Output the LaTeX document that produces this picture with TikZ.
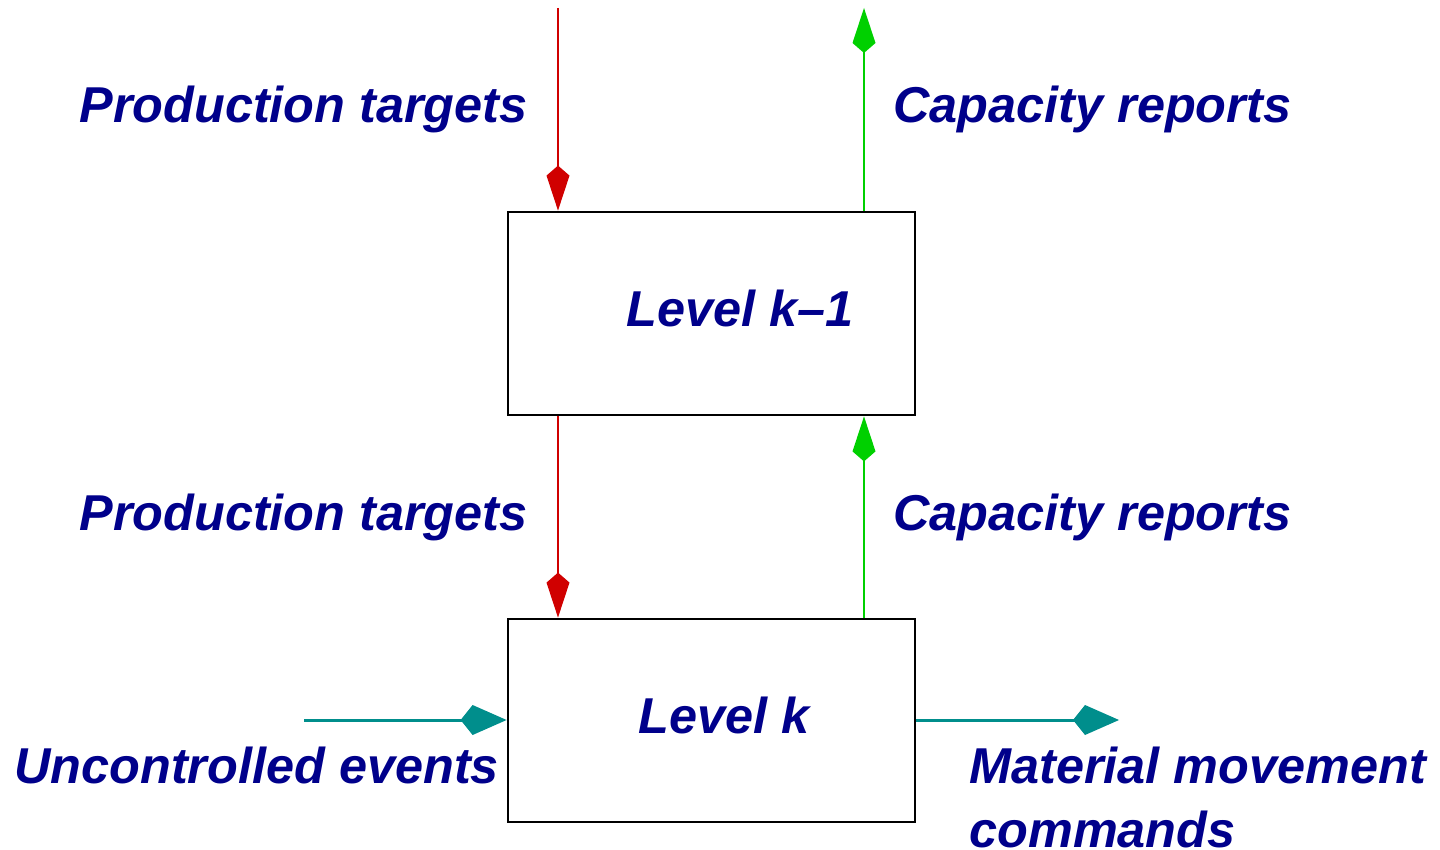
\documentclass[tikz,border=0pt]{standalone}
\usepackage{fontspec}
\setmainfont{Liberation Sans}
\usetikzlibrary{arrows.meta}
\definecolor{txtnavy}{RGB}{0,0,139}
\definecolor{arrred}{RGB}{208,0,0}
\definecolor{arrgreen}{RGB}{0,208,0}
\definecolor{arrteal}{RGB}{0,142,140}
\tikzset{
  box/.style={draw=black, line width=1.4pt, fill=white, minimum width=203.5pt, minimum height=101.5pt, inner sep=0pt},
  lbl/.style={inner sep=0pt, anchor=base west, text=txtnavy, font=\fontsize{25.2}{32}\selectfont\bfseries\itshape},
  thinkite/.style={-{Kite[length=22.5pt,width=11.5pt,inset=5pt]}},
  redline/.style={draw=arrred, line width=1pt, thinkite, arrred},
  greenline/.style={draw=arrgreen, line width=1pt, thinkite, arrgreen},
  tealline/.style={draw=arrteal, line width=1.5pt, -{Kite[length=23pt,width=15pt,inset=6pt]}, arrteal},
}
\begin{document}
\begin{tikzpicture}[x=0.5pt,y=-0.5pt]
\useasboundingbox (0,0) rectangle (1440,850);
\node[box] (b1) at (711.5,313.5) {};
\node[box] (b2) at (711.5,720.5) {};
\node[lbl] (l1) at (626,327) {Level k–1};
\node[lbl] (l2) at (638,733) {Level k};
\node[lbl] (pt1) at (79,123) {Production targets};
\node[lbl] (cr1) at (893,123) {Capacity reports};
\node[lbl] (pt2) at (79,530) {Production targets};
\node[lbl] (cr2) at (893,530) {Capacity reports};
\node[lbl] (ue) at (14,783) {Uncontrolled events};
\node[lbl] (mm) at (969,783) {Material movement};
\node[lbl] (cm) at (969,847) {commands};
\coordinate (rt) at (558,8);
\coordinate (gt) at (864,8);
\coordinate (tl) at (304,720);
\coordinate (tr) at (1119,720);
\draw[redline] (rt) -- (rt |- b1.north);
\draw[redline] (rt |- b1.south) -- (rt |- b2.north);
\draw[greenline] (gt |- b1.north) -- (gt);
\draw[greenline] (gt |- b2.north) -- (gt |- b1.south);
\draw[tealline] (tl) -- (tl -| b2.west);
\draw[tealline] (tl -| b2.east) -- (tr);
\end{tikzpicture}
\end{document}
